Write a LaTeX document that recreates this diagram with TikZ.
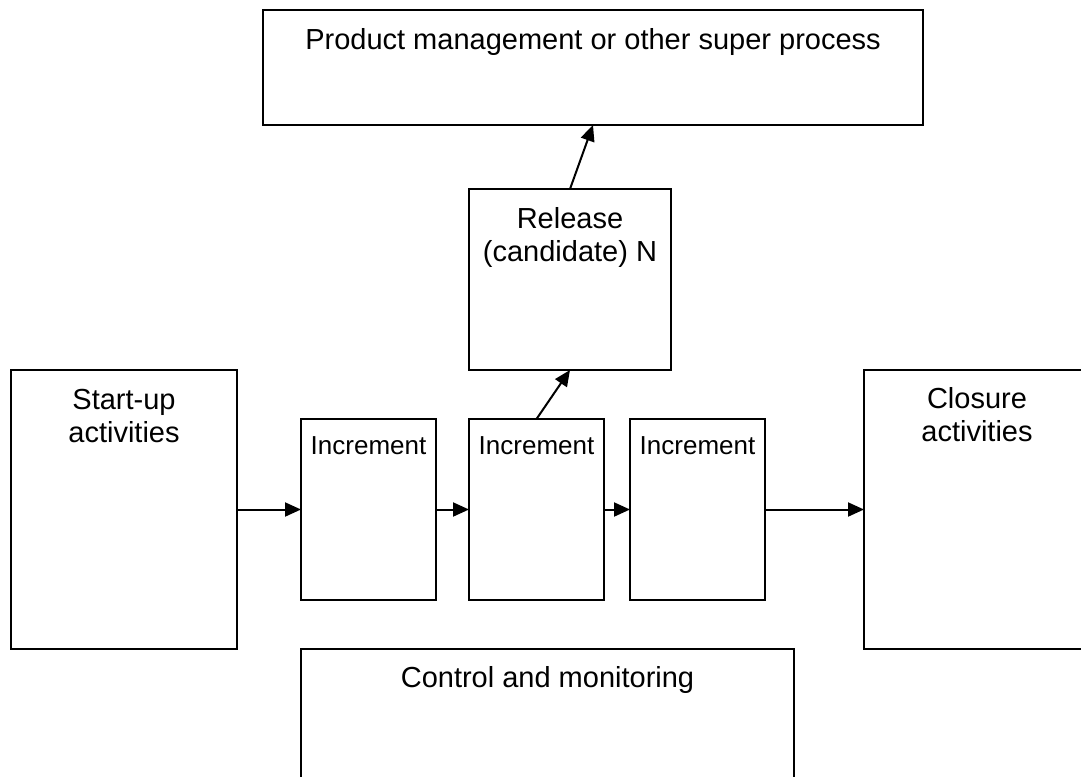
\documentclass[tikz,border=0pt]{standalone}
\usepackage{fontspec}
\setmainfont{Liberation Sans}
\usetikzlibrary{arrows.meta,calc}

\tikzset{
  box/.style={draw, line width=2pt, rectangle, anchor=north west, inner sep=0pt, outer sep=0pt},
  lbl/.style={anchor=base, align=center, inner sep=0pt, font=\fontsize{29}{33}\selectfont},
  small/.style={anchor=base, inner sep=0pt, font=\fontsize{26}{30}\selectfont},
  flow/.style={line width=2pt, -{Triangle[length=16pt,width=14pt]}},
}

\begin{document}
\begin{tikzpicture}[x=1pt, y=-1pt]
  \clip (0,0) rectangle (1081,776);
  \fill[white] (0,0) rectangle (1081,776);

  % boxes
  \node[box, minimum width=660pt, minimum height=115pt] (pm) at (263,10) {};
  \node[box, minimum width=202pt, minimum height=181pt] (rel) at (469,189) {};
  \node[box, minimum width=226pt, minimum height=279pt] (su) at (11,370) {};
  \node[box, minimum width=135pt, minimum height=181pt] (i1) at (301,419) {};
  \node[box, minimum width=135pt, minimum height=181pt] (i2) at (469,419) {};
  \node[box, minimum width=135pt, minimum height=181pt] (i3) at (630,419) {};
  \node[box, minimum width=226pt, minimum height=279pt] (cl) at (864,370) {};
  \node[box, minimum width=493pt, minimum height=160pt] (cm) at (301,649) {};

  % labels (anchored on the baseline of their last line)
  \node[lbl] (pmt) at ($(pm.north)+(0,40)$) {Product management or other super process};
  \node[lbl] (relt) at ($(rel.north)+(0,72)$) {Release\\(candidate) N};
  \node[lbl] (sut) at ($(su.north)+(0,72)$) {Start-up\\activities};
  \node[small] (i1t) at ($(i1.north)+(0,35)$) {Increment};
  \node[small] (i2t) at ($(i2.north)+(0,35)$) {Increment};
  \node[small] (i3t) at ($(i3.north)+(0,35)$) {Increment};
  \node[lbl] (clt) at ($(cl.north)+(0,71)$) {Closure\\activities};
  \node[lbl] (cmt) at ($(cm.north)+(0,38)$) {Control and monitoring};

  % connectors
  \draw[flow] (su.east) -- (i1.west);
  \draw[flow] (i1.east) -- (i2.west);
  \draw[flow] (i2.east) -- (i3.west);
  \draw[flow] (i3.east) -- (cl.west |- i3.east);
  \draw[flow] (i2.north) -- (rel.south);
  \draw[flow] (rel.north) -- (pm.south);
\end{tikzpicture}
\end{document}
